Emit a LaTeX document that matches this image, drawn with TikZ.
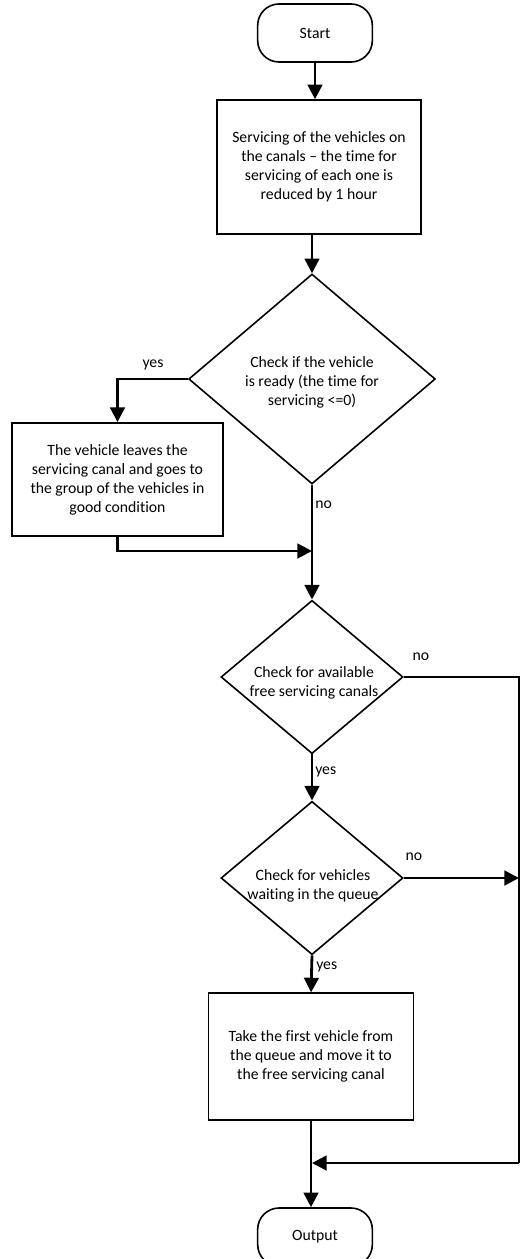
\documentclass[tikz,border=0pt]{standalone}
\usepackage{fontspec}
\setmainfont{Carlito}[Ligatures=NoCommon]
\usetikzlibrary{arrows.meta,shapes.geometric}

\begin{document}
\begin{tikzpicture}[x=0.75pt, y=-0.75pt,
  txt/.style={font=\fontsize{11.8}{14.25}\selectfont, align=center, inner sep=0pt},
  terminal/.style={draw, line width=1.2pt, rounded corners=16pt, minimum width=86pt, minimum height=43.5pt, txt},
  procbox/.style={draw, line width=1.2pt, txt},
  decision/.style={draw, diamond, line width=1.2pt, inner sep=0pt},
  flow/.style={line width=2.1pt, -{Triangle[length=11pt, width=11pt]}},
  link/.style={line width=1.3pt},
  lbl/.style={font=\fontsize{11.8}{13}\selectfont, inner sep=0pt}]

\useasboundingbox (0,0) rectangle (520,1259);

% Terminals
\node[terminal] (start) at (315,33) {Start};
\node[terminal] (out) at (315,1237) {Output};

% Process boxes
\node[procbox, minimum width=153pt, minimum height=100.5pt] (svc) at (319,167) {Servicing of the vehicles on\\the canals – the time for\\servicing of each one is\\reduced by 1 hour};
\node[procbox, minimum width=158pt, minimum height=85pt] (leave) at (117.5,479.5) {The vehicle leaves the\\servicing canal and goes to\\the group of the vehicles in\\good condition};
\node[procbox, minimum width=154pt, minimum height=95pt] (take) at (311,1056.5) {Take the first vehicle from\\the queue and move it to\\the free servicing canal};

% Decisions (text set slightly below the centre)
\node[decision, minimum width=185pt, minimum height=157.5pt] (d1) at (312,379) {};
\node[txt] (d1text) at (312,382) {Check if the vehicle\\is ready (the time for\\servicing <=0)};

\node[decision, minimum width=136.5pt, minimum height=115pt] (d2) at (312,677) {};
\node[txt] (d2text) at (314,683) {Check for available\\free servicing canals};

\node[decision, minimum width=136.5pt, minimum height=115pt] (d3) at (312,878) {};
\node[txt] (d3text) at (313,886) {Check for vehicles\\waiting in the queue};

% Junctions
\coordinate (m1) at (312,551);
\coordinate (rbot) at (519,1163);
\coordinate (m2) at (312,1163);

% Main flow
\draw[flow] (start.south) -- (start.south |- svc.north);
\draw[flow] (d1.north |- svc.south) -- (d1.north);
\draw[flow] (d1.west) -| (leave.north);
\draw[flow] (d1.south) -- (d2.north);
\draw[flow] (leave.south) |- (m1);
\draw[flow] (d2.south) -- (d3.north);
\draw[flow] (d3.south) -- (take.north);
\draw[flow] (take.south) -- (take.south |- out.north);

% Bypass on the right
\draw[link] (d2.east) -| (rbot);
\draw[flow] (d3.east) -- (d3.east -| rbot);
\draw[flow] (rbot) -- (m2);

% Branch labels
\node[lbl] (yes1) at (153,365) {yes};
\node[lbl, anchor=west] (no1) at (315,505) {no};
\node[lbl] (no2) at (421,657) {no};
\node[lbl, anchor=west] (yes2) at (315,772) {yes};
\node[lbl] (no3) at (414,857) {no};
\node[lbl, anchor=west] (yes3) at (316,967) {yes};

\end{tikzpicture}
\end{document}
